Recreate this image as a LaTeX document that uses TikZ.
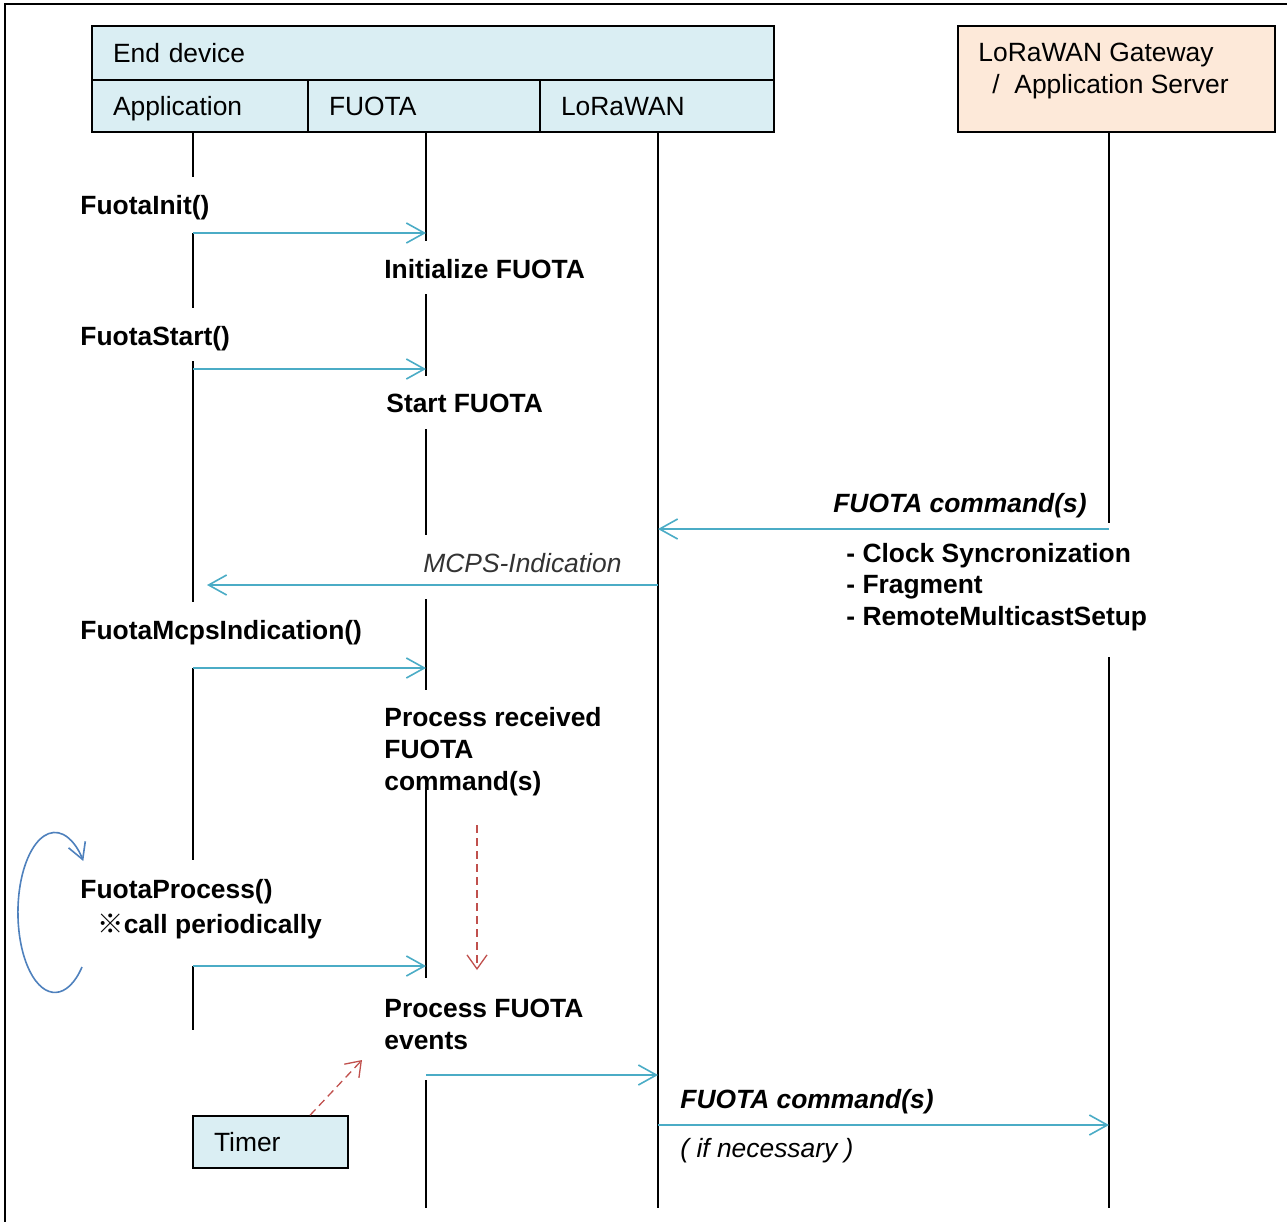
\documentclass[tikz,border=0pt]{standalone}
\usepackage{fontspec}
\setmainfont{Liberation Sans}
\newfontfamily\cjk{Noto Sans CJK JP}
\usetikzlibrary{arrows.meta}
\definecolor{cellblue}{HTML}{DAEEF3}
\definecolor{peach}{HTML}{FDE9D9}
\definecolor{msg}{HTML}{4BACC6}
\definecolor{evt}{HTML}{C0504D}
\definecolor{loopc}{HTML}{4F81BD}
\definecolor{note}{HTML}{333333}

\begin{document}
\begin{tikzpicture}[x=0.5pt,y=-0.5pt,
  txt/.style={font=\fontsize{13.2}{16}\selectfont, inner sep=0pt},
  lbl/.style={inner sep=0pt, font=\fontsize{13.2}{16}\selectfont\bfseries, align=left, anchor=west, yshift=-1.5pt},
  cell/.style={draw, line width=0.75pt, fill=cellblue, txt, inner xsep=10.5pt, align=left,
    text height=10.8pt, text depth=1.4pt, minimum height=26pt},
  life/.style={line width=0.75pt},
  msgarrow/.style={draw=msg, line width=0.8pt, -{Straight Barb[length=9pt,width=10pt]}},
  evtarrow/.style={draw=evt, line width=0.65pt, dash pattern=on 4pt off 2.5pt, -{Straight Barb[length=7pt,width=10pt]}},
]
\useasboundingbox (0,0) rectangle (1287,1222);

% frame edges
\draw[line width=1.3pt] (5,1222) -- (5,4) -- (1287,4);

% participants
\node[cell, text width=320pt, minimum height=27pt] (dev) at (433,53) {End device};
\node[cell, text width=87pt] (appH) at (200,106) {Application};
\node[cell, text width=95pt] (fuotaH) at (424,106) {FUOTA};
\node[cell, text width=96pt] (loraH) at (657,106) {LoRaWAN};
\node[draw, line width=0.75pt, fill=peach, minimum width=158.5pt, minimum height=53pt, inner sep=0pt] (gw) at (1116.5,79) {};
\node[txt, align=left, anchor=west] (gwtext) at (978,71) {LoRaWAN Gateway\\\hspace{7pt}/\ \ Application Server};

% lifelines (interrupted where the step labels sit)
\foreach \a/\b in {132/177,233/308,361/602,668/860,966/1030}
  \draw[life] (193,\a) -- (193,\b);
\foreach \a/\b in {132/241,294/376,429/535,599/690,787/978,1080/1208}
  \draw[life] (426,\a) -- (426,\b);
\draw[life] (658,132) -- (658,1208);
\foreach \a/\b in {132/523,657/1208}
  \draw[life] (1109,\a) -- (1109,\b);

% timer
\node[cell, text width=56.5pt] (timer) at (270.5,1142) {Timer};

% labels
\node[lbl] (lInit) at (80,205) {FuotaInit()};
\node[lbl] (lInitF) at (384,266) {Initialize FUOTA};
\node[lbl] (lStart) at (80,336) {FuotaStart()};
\node[lbl] (lStartF) at (386,400) {Start FUOTA};
\node[lbl, font=\fontsize{13.2}{16}\selectfont\bfseries\itshape, anchor=east] (lCmdIn) at (1087,503) {FUOTA command(s)};
\node[lbl, font=\fontsize{13.2}{16}\selectfont\itshape, text=note] (lMcps) at (423,560) {MCPS-Indication};
\node[lbl, font=\fontsize{13.2}{15.75}\selectfont\bfseries] (lList) at (846,584) {- Clock Syncronization\\- Fragment\\- RemoteMulticastSetup};
\node[lbl] (lMcpsInd) at (80,630) {FuotaMcpsIndication()};
\node[lbl] (lProcRx) at (384,749) {Process received\\FUOTA\\command(s)};
\node[lbl, font=\fontsize{13.2}{17.5}\selectfont\bfseries] (lProc) at (80,906) {FuotaProcess()\\\hspace{8.5pt}{\cjk ※}call periodically};
\node[lbl] (lProcEv) at (384,1021) {Process FUOTA\\events};
\node[lbl, font=\fontsize{13.2}{16}\selectfont\bfseries\itshape] (lCmdOut) at (680,1099) {FUOTA command(s)};
\node[lbl, font=\fontsize{13.2}{16}\selectfont\itshape] (lIfNec) at (680,1148) {( if necessary )};

% message end points on the lifelines
\coordinate (initS) at (193,233);   \coordinate (initE) at (426,233);
\coordinate (startS) at (193,369);  \coordinate (startE) at (426,369);
\coordinate (cmdS) at (1109,529);   \coordinate (cmdE) at (658,529);
\coordinate (indS) at (658,585);    \coordinate (indE) at (207,585);
\coordinate (mcpsS) at (193,668);   \coordinate (mcpsE) at (426,668);
\coordinate (procS) at (193,966);   \coordinate (procE) at (426,966);
\coordinate (evS) at (426,1075);    \coordinate (evE) at (658,1075);
\coordinate (upS) at (658,1125);    \coordinate (upE) at (1109,1125);
\coordinate (rxS) at (477,825);     \coordinate (rxE) at (477,970);
\coordinate (tmE) at (362,1060);

% messages
\draw[msgarrow] (initS) -- (initE);
\draw[msgarrow] (startS) -- (startE);
\draw[msgarrow] (cmdS) -- (cmdE);
\draw[msgarrow] (indS) -- (indE);
\draw[msgarrow] (mcpsS) -- (mcpsE);
\draw[msgarrow] (procS) -- (procE);
\draw[msgarrow] (evS) -- (evE);
\draw[msgarrow] (upS) -- (upE);

% internal triggers
\draw[evtarrow] (rxS) -- (rxE);
\draw[evtarrow] (timer.north -| 310,0) -- (tmE);

% periodic call loop
\draw[draw=loopc, line width=0.8pt, -{Straight Barb[length=8pt,width=9pt]}]
  (82,967) arc[start angle=-43, end angle=-320, x radius=18.5pt, y radius=40pt];
\end{tikzpicture}
\end{document}
